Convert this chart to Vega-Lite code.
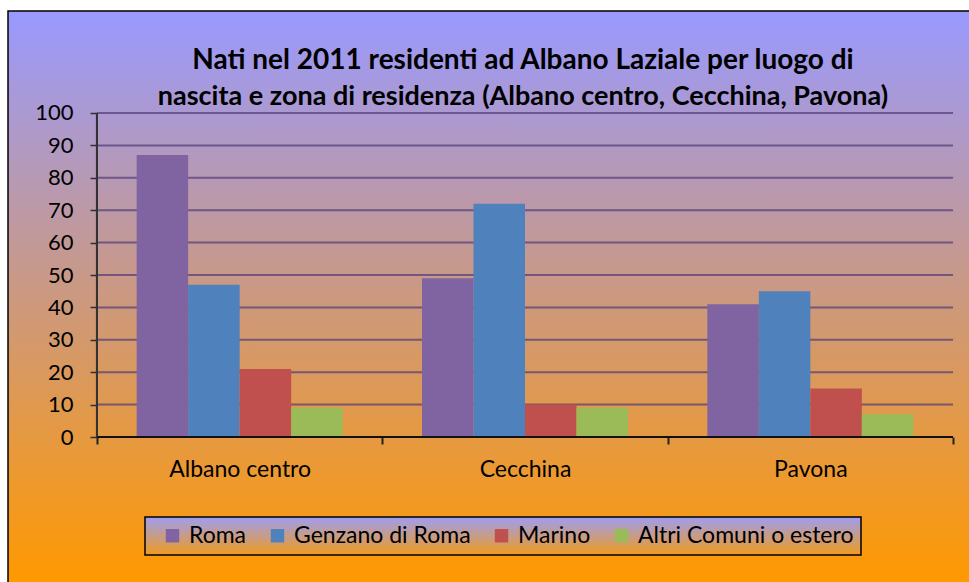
{
  "$schema": "https://vega.github.io/schema/vega-lite/v6.json",
  "width": 962,
  "height": 572,
  "autosize": {"type": "none"},
  "padding": {"left": 8, "top": 11, "right": 0, "bottom": 0},
  "background": "white",
  "config": {
    "font": "Lato",
    "view": {
      "fill": {"gradient": "linear", "x1": 0, "y1": 0, "x2": 0, "y2": 1,
        "stops": [{"offset": 0, "color": "#9999FF"}, {"offset": 1, "color": "#FF9900"}]},
      "stroke": "#000",
      "strokeWidth": 1.5
    },
    "axisX": {"title": null, "orient": "bottom", "offset": -146, "domain": false, "tickBand": "extent", "tickSize": 7, "tickColor": "#222", "tickWidth": 2, "labelFontSize": 23, "labelColor": "#000", "labelPadding": 14, "labelAngle": 0, "grid": false},
    "axisY": {"title": null, "offset": -89, "domain": false, "grid": false, "tickSize": 7, "tickColor": "#333", "tickWidth": 1.5, "labelFontSize": 22, "labelColor": "#000", "labelPadding": 17}
  },
  "title": {
    "text": "Nati nel 2011 residenti ad Albano Laziale per luogo di",
    "subtitle": "nascita e zona di residenza (Albano centro, Cecchina, Pavona)",
    "font": "Lato",
    "subtitleFont": "Lato",
    "fontSize": 28,
    "fontWeight": "bold",
    "color": "#000",
    "subtitleFontSize": 27,
    "subtitleFontWeight": "bold",
    "subtitleColor": "#000",
    "subtitlePadding": 9,
    "anchor": "middle",
    "offset": -99,
    "dx": 34
  },
  "datasets": {
    "bars": [
      {"zona": "Albano centro", "luogo": "Roma", "n": 87},
      {"zona": "Albano centro", "luogo": "Genzano di Roma", "n": 47},
      {"zona": "Albano centro", "luogo": "Marino", "n": 21},
      {"zona": "Albano centro", "luogo": "Altri Comuni o estero", "n": 9},
      {"zona": "Cecchina", "luogo": "Roma", "n": 49},
      {"zona": "Cecchina", "luogo": "Genzano di Roma", "n": 72},
      {"zona": "Cecchina", "luogo": "Marino", "n": 10},
      {"zona": "Cecchina", "luogo": "Altri Comuni o estero", "n": 9},
      {"zona": "Pavona", "luogo": "Roma", "n": 41},
      {"zona": "Pavona", "luogo": "Genzano di Roma", "n": 45},
      {"zona": "Pavona", "luogo": "Marino", "n": 15},
      {"zona": "Pavona", "luogo": "Altri Comuni o estero", "n": 7}
    ],
    "grid": [{"v": 10}, {"v": 20}, {"v": 30}, {"v": 40}, {"v": 50}, {"v": 60}, {"v": 70}, {"v": 80}, {"v": 90}, {"v": 100}]
  },
  "layer": [
    {
      "data": {"name": "grid"},
      "mark": {"type": "rule", "color": "#54407A", "strokeWidth": 2, "opacity": 0.75},
      "encoding": {
        "y": {"field": "v", "type": "quantitative", "axis": {"values": [0, 10, 20, 30, 40, 50, 60, 70, 80, 90, 100]}},
        "x": {"datum": "Albano centro", "type": "nominal", "bandPosition": 0},
        "x2": {"datum": "Pavona", "bandPosition": 1}
      }
    },
    {
      "data": {"name": "bars"},
      "mark": {"type": "bar"},
      "encoding": {
        "x": {
          "field": "zona", "type": "nominal",
          "scale": {"domain": ["Albano centro", "Cecchina", "Pavona"], "paddingInner": 0, "paddingOuter": 0.18575, "align": 0.8396}
        },
        "xOffset": {
          "field": "luogo", "type": "nominal",
          "scale": {"domain": ["Roma", "Genzano di Roma", "Marino", "Altri Comuni o estero"], "paddingInner": 0, "paddingOuter": 0.77}
        },
        "y": {
          "field": "n", "type": "quantitative",
          "scale": {"domain": [-45.06, 131.48], "nice": false, "zero": false},
          "axis": {"values": [0, 10, 20, 30, 40, 50, 60, 70, 80, 90, 100]}
        },
        "y2": {"datum": 0},
        "color": {
          "field": "luogo", "type": "nominal",
          "scale": {"domain": ["Roma", "Genzano di Roma", "Marino", "Altri Comuni o estero"], "range": ["#8064A2", "#4F81BD", "#C0504D", "#9BBB59"]},
          "legend": {
            "title": "\u2003", "titleOrient": "left", "titleFontSize": 12, "titlePadding": 9,
            "orient": "none", "legendX": 137, "legendY": 506, "direction": "horizontal", "columns": 4,
            "symbolType": "square", "symbolSize": 180, "symbolStrokeWidth": 0, "symbolOpacity": 1,
            "labelFontSize": 23, "labelLimit": 0, "labelColor": "#000", "labelOffset": 5, "columnPadding": 19, "padding": 7,
            "strokeColor": "#000", "fillColor": "#C8A0B0",
            "encode": {"legend": {"update": {
              "fill": {"value": {"gradient": "linear", "x1": 0, "y1": 0, "x2": 0, "y2": 1,
                "stops": [{"offset": 0, "color": "#9E9EF2"}, {"offset": 1, "color": "#F09A1E"}]}},
              "strokeWidth": {"value": 1.5}}}}
          }
        }
      }
    },
    {
      "data": {"name": "grid"},
      "mark": {"type": "rule", "color": "#111", "strokeWidth": 2},
      "encoding": {
        "y": {"datum": 0, "type": "quantitative"},
        "x": {"datum": "Albano centro", "type": "nominal", "bandPosition": 0},
        "x2": {"datum": "Pavona", "bandPosition": 1}
      }
    },
    {
      "data": {"name": "grid"},
      "mark": {"type": "rule", "color": "#333", "strokeWidth": 2},
      "encoding": {
        "y": {"datum": 0, "type": "quantitative"},
        "y2": {"datum": 100},
        "x": {"datum": "Albano centro", "type": "nominal", "bandPosition": 0}
      }
    }
  ]
}
